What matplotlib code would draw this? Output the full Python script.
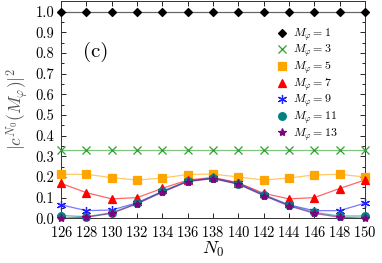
# -------------- Import Libraries --------------
import matplotlib
matplotlib.use('Agg')
import matplotlib.pyplot as plt
from matplotlib.ticker import MultipleLocator

# -------------- Style --------------
plt.rcParams['font.family'] = 'serif'
plt.rcParams['font.serif'] = ['cmr10']
plt.rcParams['mathtext.fontset'] = 'cm'
plt.rcParams['axes.formatter.use_mathtext'] = True

# -------------- Data --------------
n0 = [126, 128, 130, 132, 134, 136, 138, 140, 142, 144, 146, 148, 150]

m1 = [1.0] * 13
m3 = [0.333] * 13
m5 = [0.213, 0.213, 0.197, 0.185, 0.195, 0.212, 0.214, 0.200, 0.185, 0.195, 0.210, 0.213, 0.200]
m7 = [0.169, 0.124, 0.094, 0.100, 0.145, 0.185, 0.198, 0.172, 0.121, 0.094, 0.100, 0.144, 0.185]
m9 = [0.065, 0.037, 0.040, 0.075, 0.130, 0.180, 0.195, 0.170, 0.115, 0.065, 0.037, 0.037, 0.073]
m11 = [0.013, 0.008, 0.027, 0.073, 0.130, 0.180, 0.194, 0.166, 0.113, 0.063, 0.029, 0.011, 0.011]
m13 = [0.000, 0.005, 0.024, 0.070, 0.126, 0.178, 0.192, 0.165, 0.110, 0.060, 0.024, 0.005, 0.000]

labels = [r'$M_\varphi=1$', r'$M_\varphi=3$', r'$M_\varphi=5$', r'$M_\varphi=7$',
          r'$M_\varphi=9$', r'$M_\varphi=11$', r'$M_\varphi=13$']
series = [m1, m3, m5, m7, m9, m11, m13]
colors = ['black', '#2ca02c', '#ffa500', '#ff0000', '#1f1fff', '#008080', '#800080']
markers = ['D', 'x', 's', '^', (6, 2, 0), 'o', '*']
msizes = [4.5, 6, 6, 5.5, 6.5, 5.5, 6]

# -------------- Plot --------------
fig = plt.figure(figsize=(3.82, 2.63), dpi=100)
ax = fig.add_axes([0.16, 0.17, 0.795, 0.827])

for y, c, m, ms, lab in zip(series, colors, markers, msizes, labels):
    ax.plot(n0, y, color=c, lw=0.9, alpha=0.6, clip_on=False)   # thin connecting line
    ax.plot(n0, y, ls='none', marker=m, color=c, ms=ms, mew=0.9,
            clip_on=False, label=lab, zorder=3)

ax.set_xlim(126, 150)
ax.set_ylim(0, 1.053)
ax.xaxis.set_major_locator(MultipleLocator(2))
ax.yaxis.set_minor_locator(MultipleLocator(0.05))
ax.set_yticks([0.1 * i for i in range(11)])
ax.set_yticklabels(['%.1f' % (0.1 * i) for i in range(11)])
ax.tick_params(which='both', direction='in', top=True, right=True, labelsize=10.5, pad=5)
ax.tick_params(which='major', length=3.5, width=0.6)
ax.tick_params(which='minor', length=2, width=0.6)
for s in ax.spines.values():
    s.set_linewidth(0.7)
    s.set_color('#333333')

ax.set_xlabel(r'$N_0$', fontsize=13, labelpad=0)
ax.set_ylabel(r'$|c^{N_0}(M_\varphi)|^2$', fontsize=12.5, labelpad=3, color='#555555')
ax.text(127.7, 0.805, '(c)', fontsize=15, va='center', ha='left')

ax.legend(loc='upper left', bbox_to_anchor=(0.711, 0.883), frameon=False, fontsize=8.6,
          handlelength=0.9, handletextpad=0.45, labelspacing=0.0, borderpad=0,
          borderaxespad=0)

plt.savefig('out.png', dpi=100)
